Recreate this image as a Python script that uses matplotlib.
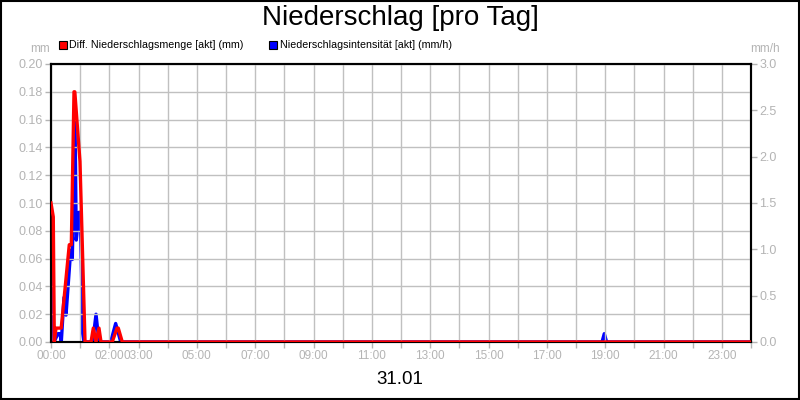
import matplotlib
matplotlib.use("Agg")
import matplotlib.pyplot as plt
from matplotlib.patches import Rectangle

# Diff. Niederschlagsmenge [akt] (mm) -- time in minutes after 00:00
menge_t = [0, 4.7, 6.8, 10.3, 21, 37.6, 41.8, 47.3, 49, 59.6, 70,
           82.3, 87, 92.6, 98.7, 102.9, 126, 135.8, 138.4, 146.7, 1440]
menge_v = [0.10, 0.09, 0.0, 0.01, 0.01, 0.07, 0.07, 0.18, 0.18, 0.13, 0.0,
           0.0, 0.01, 0.0, 0.01, 0.0, 0.0, 0.01, 0.01, 0.0, 0.0]

# Niederschlagsintensitaet [akt] (mm/h)
int_t = [0, 6.2, 14.4, 18.5, 21.2, 26.7, 28.5, 30.9, 40.5, 43.8, 49.4, 52, 57.6,
         60.3, 65.2, 67.9, 85.8, 92.6, 98.7, 122.8, 133, 143.4,
         1133.5, 1138.2, 1143, 1440]
int_v = [0.9, 0.0, 0.09, 0.09, 0.0, 0.48, 0.48, 0.29, 0.99, 0.89, 2.40, 1.10, 1.40,
         1.40, 0.09, 0.0, 0.0, 0.30, 0.0, 0.0, 0.20, 0.0,
         0.0, 0.09, 0.0, 0.0]

left_ticks = [0.00, 0.02, 0.04, 0.06, 0.08, 0.10, 0.12, 0.14, 0.16, 0.18, 0.20]
right_ticks = [0.0, 0.5, 1.0, 1.5, 2.0, 2.5, 3.0]
labeled_hours = [0, 2, 3, 5, 7, 9, 11, 13, 15, 17, 19, 21, 23]

title = "Niederschlag [pro Tag]"
date_label = "31.01"

plt.rcParams['font.family'] = ['Liberation Sans', 'DejaVu Sans']
gray = '#b4b4b4'
grid = '#c0c0c0'

fig = plt.figure(figsize=(8, 4), dpi=100)
fig.patch.set_facecolor('white')
ax = fig.add_axes([51/800, 58/400, 700/800, 278/400])
ax2 = ax.twinx()

ax.set_xlim(0, 1440)
ax.set_ylim(0, 0.20)
ax2.set_ylim(0, 3.0)

hours = list(range(0, 25))
ax.set_xticks([h * 60 for h in hours])
ax.set_xticklabels([f"{h:02d}:00" if h in labeled_hours else "" for h in hours])
ax.set_yticks(left_ticks)
ax.set_yticklabels([f"{v:.2f}" for v in left_ticks])
ax2.set_yticks(right_ticks)
ax2.set_yticklabels([f"{v:.1f}" for v in right_ticks])

ax.grid(True, color=grid, linewidth=1)
ax.set_axisbelow(True)
for a in (ax, ax2):
    a.tick_params(colors=gray, labelsize=9, length=4, width=1, pad=2)
    for s in a.spines.values():
        s.set_color('black')
        s.set_linewidth(1.5)
ax.tick_params(axis='x', labelsize=8.5)

ax2.plot(int_t, int_v, color='#0000ff', linewidth=2.4, zorder=2)
ax2.set_zorder(1)
ax.set_zorder(2)
ax.patch.set_visible(False)
ax.plot(menge_t, menge_v, color='#ff0000', linewidth=2.4, zorder=3)

fig.text(0.5, 1 - 18/400, title, ha='center', va='center', fontsize=20, color='black')
fig.text(400/800, 1 - 380/400, date_label, ha='center', va='center', fontsize=13.5, color='black')
fig.text(40/800, 1 - 49/400, "mm", ha='center', va='center', fontsize=8.5, color=gray)
fig.text(765/800, 1 - 49/400, "mm/h", ha='center', va='center', fontsize=8.5, color=gray)

# legend
fig.patches.append(Rectangle((59/800, 1 - 49/400), 8/800, 8/400, transform=fig.transFigure,
                             facecolor='#ff0000', edgecolor='black', linewidth=0.8))
fig.text(69/800, 1 - 45/400, "Diff. Niederschlagsmenge [akt] (mm)", ha='left', va='center',
         fontsize=7.7, color='black')
fig.patches.append(Rectangle((269/800, 1 - 49/400), 8/800, 8/400, transform=fig.transFigure,
                             facecolor='#0000ff', edgecolor='black', linewidth=0.8))
fig.text(280/800, 1 - 45/400, "Niederschlagsintensität [akt] (mm/h)", ha='left', va='center',
         fontsize=7.7, color='black')

# figure border
fig.patches.append(Rectangle((0.001, 0.002), 0.998, 0.996, transform=fig.transFigure,
                             fill=False, edgecolor='black', linewidth=1.5))

fig.savefig("out.png", dpi=100)
